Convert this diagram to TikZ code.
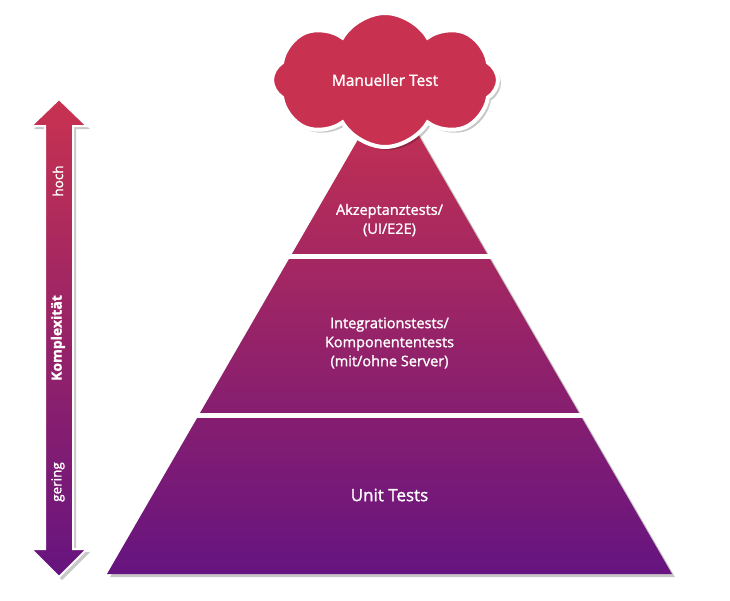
\documentclass[tikz,border=0pt]{standalone}
\usepackage{fontspec}
\setmainfont{Open Sans}[FakeBold=1.4]
\usepackage{xcolor}
\usetikzlibrary{positioning, shapes.symbols, shadows, calc}
\definecolor{crimson}{RGB}{200,50,80}
\definecolor{plum}{RGB}{102,20,128}

\begin{document}
\begin{tikzpicture}[x=1pt, y=-1pt,
    label/.style={text=white, align=center, font=\fontsize{14.5}{19}\selectfont},
    side/.style={text=white, rotate=90, font=\fontsize{13.5}{15}\selectfont},
    grad/.style={top color=crimson, bottom color=plum},
    gap/.style={draw=white, line width=5pt},
    shade box/.style={drop shadow={shadow xshift=3pt, shadow yshift=-3pt,
                      opacity=0.22, fill=black}}
]
\useasboundingbox (0,0) rectangle (730,600);
% Pyramid
\path[grad, shade box] (389.5,85) coordinate (apex) -- (672,574) coordinate (base_r)
      -- (107,574) coordinate (base_l) -- cycle;
\draw[gap] (285,256.5) -- (494,256.5);
\draw[gap] (194,415.5) -- (586,415.5);
\node[label] (accept) at (389.5,220) {Akzeptanztests/\\(UI/E2E)};
\node[label] (integr) at (389.5,343) {Integrationstests/\\Komponententests\\(mit/ohne Server)};
\node[label, font=\fontsize{17}{20}\selectfont] (unit) at (389.5,495) {Unit Tests};
% Cloud on top
\node[cloud, cloud puffs=8, cloud puff arc=120, aspect=1.7,
      minimum width=226pt, minimum height=134pt, inner sep=0pt,
      fill=crimson, draw=white, line width=4pt, shade box,
      text=white, font=\fontsize{15.5}{18}\selectfont] (manual) at (385,80) {Manueller Test};
% Left — complexity arrow
\path[grad, draw=white, line width=2pt, shade box]
      (59,99) -- (87,126) -- (73,126) -- (73,549) -- (87,549) -- (59,577)
      -- (31,549) -- (45,549) -- (45,126) -- (31,126) -- cycle;
\node[side] (high) at (58,181) {hoch};
\node[side, font=\bfseries\fontsize{14}{15}\selectfont] (cplx) at (58,338) {Komplexität};
\node[side] (low) at (58,482) {gering};
\end{tikzpicture}
\end{document}
